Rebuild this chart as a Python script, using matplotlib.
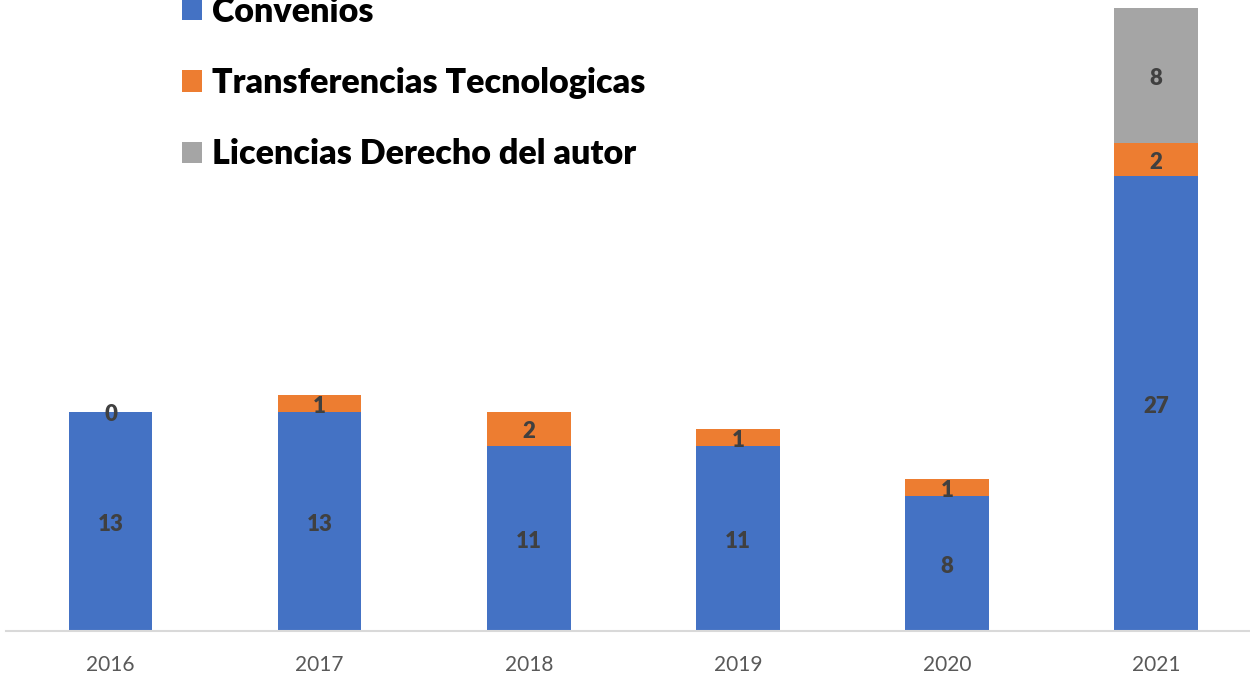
import matplotlib
matplotlib.use("Agg")
from matplotlib import pyplot as plt

YEARS = ['2016', '2017', '2018', '2019', '2020', '2021']
CONVENIOS = [13, 13, 11, 11, 8, 27]
TRANSFERENCIAS = [0, 1, 2, 1, 1, 2]
LICENCIAS = [0, 0, 0, 0, 0, 8]

SERIES = [
    ('Convenios', CONVENIOS, '#4472C4'),
    ('Transferencias Tecnologicas', TRANSFERENCIAS, '#ED7D31'),
    ('Licencias Derecho del autor', LICENCIAS, '#A5A5A5')]

plt.rcParams['font.family'] = ['Lato', 'DejaVu Sans']

W, H = 1250, 694
fig = plt.figure(figsize=(W / 100, H / 100), dpi=100)
# axes placed in pixels: baseline at y=631, top (37 units) at y=8
ax = fig.add_axes([6 / W, (H - 631) / H, 1254.6 / W, 623 / H])

x = range(len(YEARS))
bottom = [0] * len(YEARS)
for i, (name, vals, color) in enumerate(SERIES):
    bars = ax.bar(x, vals, 0.4, bottom=bottom, color=color, label=name)
    # the gray series only gets a label where there is a value
    labels = [str(v) if (v or i < 2) else '' for v in vals]
    ax.bar_label(bars, labels=labels, label_type='center', padding=-2,
                 fontsize=16, fontweight='heavy', color='#404040')
    bottom = [b + v for b, v in zip(bottom, vals)]

ax.set_xlim(-0.5, 5.5)
ax.set_ylim(0, 37)
ax.set_xticks(list(x))
ax.set_xticklabels(YEARS, fontsize=15, color='#595959')
ax.tick_params(axis='x', length=0, pad=17)
ax.set_yticks([])
for side in ['left', 'right', 'top']:
    ax.spines[side].set_visible(False)
ax.spines['bottom'].set_color('#D9D9D9')
ax.spines['bottom'].set_linewidth(1.5)

leg = fig.legend(loc='center left', bbox_to_anchor=(182 / W, 1 - 83 / H),
                 frameon=False, borderpad=0, borderaxespad=0, fontsize=24.5,
                 handlelength=0.6, handleheight=0.6, handletextpad=0.27,
                 labelspacing=1.16)
for t in leg.get_texts():
    t.set_fontweight('heavy')

fig.savefig('out.png', dpi=100)
